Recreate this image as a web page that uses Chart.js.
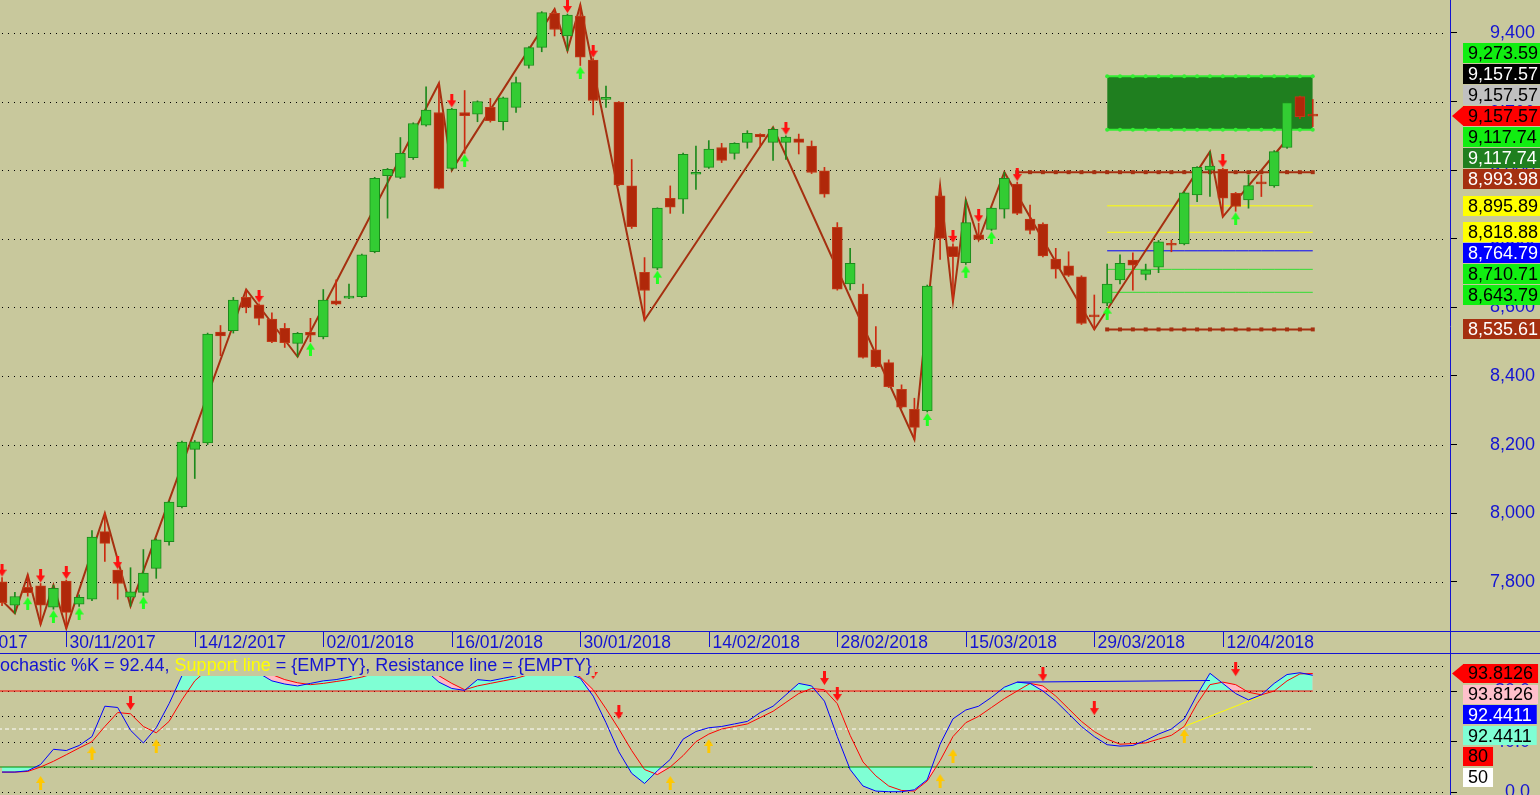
<!DOCTYPE html>
<html><head><meta charset="utf-8">
<script src="https://cdn.jsdelivr.net/npm/chart.js@4.4.1/dist/chart.umd.min.js"></script>
<style>
html,body{margin:0;padding:0;background:#C8C89C;overflow:hidden;width:1540px;height:795px;}
#main{position:absolute;left:-100px;top:0;}
#stoch{position:absolute;left:-100px;top:653px;}
</style></head><body>
<canvas id="main" width="1640" height="653"></canvas>
<canvas id="stoch" width="1640" height="142"></canvas>
<script>
// ---------------- DATA ----------------
const bars = Array.from({length:103}, (_, i) => i);
const dateTickBars   = [-5, 5, 15, 25, 35, 45, 55, 65, 75, 85, 95];
const dateTickLabels = ['16/11/2017','30/11/2017','14/12/2017','02/01/2018','16/01/2018','30/01/2018','14/02/2018','28/02/2018','15/03/2018','29/03/2018','12/04/2018'];
const priceTicks = [7800, 8000, 8200, 8400, 8600, 8800, 9000, 9200, 9400];
const stochTicks = [0, 20, 40, 60, 80, 100];

const open = [7800,7732,7784,7788,7726,7802,7735,7749,7946,7834,
7755,7769,7839,7917,8019,8186,8205,8528,8532,8629,
8607,8566,8539,8495,8527,8514,8619,8627,8631,8762,
8984,8979,9036,9131,9168,9005,9168,9163,9183,9141,
9183,9305,9358,9457,9391,9449,9321,9206,9198,8954,
8702,8714,8918,8915,8988,9008,9066,9049,9081,9104,
9081,9081,9091,9070,8998,8833,8668,8639,8476,8439,
8361,8303,8299,8925,8777,8730,8811,8827,8886,8959,
8857,8843,8741,8721,8689,8576,8612,8680,8738,8696,
8717,8784,8785,8928,9000,9002,8932,8913,8961,8954,
9066,9214,9160];
const high = [7812,7769,7820,7795,7790,7805,7762,7949,8000,7834,
7841,7894,7925,8035,8210,8212,8525,8547,8629,8652,
8610,8584,8553,8527,8568,8652,8680,8668,8755,8979,
9005,9095,9138,9243,9253,9180,9232,9202,9209,9213,
9271,9360,9462,9469,9455,9481,9325,9245,9200,9031,
8745,8890,8954,9050,9070,9086,9078,9080,9115,9106,
9125,9100,9105,9085,9008,8847,8772,8668,8544,8447,
8374,8335,8665,8954,8785,8913,8845,8890,8994,8965,
8898,8846,8772,8762,8692,8636,8726,8753,8759,8726,
8795,8796,8937,9010,9054,9005,8935,8986,8986,9057,
9200,9216,9206];
const low = [7730,7708,7758,7676,7720,7664,7728,7745,7859,7749,
7729,7760,7810,7907,8015,8101,8200,8459,8525,8584,
8549,8497,8483,8456,8500,8508,8607,8625,8628,8759,
8860,8975,9031,9128,8945,9000,9049,9141,9140,9117,
9168,9297,9345,9391,9348,9305,9161,9183,8955,8830,
8563,8710,8874,8874,8944,9005,9022,9032,9064,9068,
9028,9031,9047,8990,8921,8650,8651,8452,8425,8366,
8306,8215,8295,8740,8617,8725,8797,8824,8860,8870,
8814,8747,8685,8690,8550,8535.61,8605,8668,8650,8680,
8701,8762,8782,8908,8923,8864,8880,8889,8923,8950,
9063,9150,9127];
const close = [7739,7757,7768,7732,7781,7711,7755,7930,7912,7795,
7771,7825,7922,8032,8207,8208,8522,8517,8621,8600,
8568,8500,8497,8524,8519,8621,8609,8630,8753,8976,
9002,9049,9136,9175,8947,9178,9159,9200,9144,9211,
9255,9357,9459,9410,9452,9329,9203,9208,8957,8835,
8649,8889,8892,9046,8990,9061,9028,9078,9107,9097,
9119,9096,9081,8993,8930,8653,8728,8454,8427,8369,
8309,8250,8662,8801,8748,8847,8798,8889,8976,8874,
8824,8750,8711,8693,8553,8572,8668,8728,8723,8709,
8791,8781,8934,9008,9012,8918,8894,8955,8960,9054,
9197,9156,9157.57];

const zigzagBars = [0,1,2,3,4,5,8,10,19,23,34,35,43,44,45,50,60,71,73,74,75,76,78,85,94,95,100];
const zigzagVals = [7745,7708,7820,7676,7790,7664,8000,7729,8652,8456,9253,9000,9469,9348,9481,8563,9125,8215,8954,8617,8913,8797,8994,8535.61,9054,8864,9090];

const sellArrowBars = [0,3,5,9,20,35,44,46,61,74,76,79,95];
const buyArrowBars  = [2,4,6,11,24,36,45,51,72,75,77,86,96];

const lastClose = 9157.57;
const zoneTop = 9273.59, zoneBottom = 9117.74, zoneFromBar = 86;
const resistLevel = 8993.98, resistFromBar = 79;
const supportLevel = 8535.61;
const yellowLevels = [8895.89, 8818.88];
const blueLevel = 8764.79;
const greenLevels = [8710.71, 8643.79];
const levelsFromBar = 86;

const stochK = [16,16,17,22,34,33,37,44,68,67,
49,39,51,70,92,100,100,98,100,99,
94,88,85.5,84,86,88,89,91,95,100,
98,100,100,96,87,82,80.5,89,88,90,
92,97,100,97,94,90,76,55,32,15,
7,17,26,42,48,51,52,54,56,63,
68,77,86,84,72,44,18,5,1,0.5,
0.5,2,10,38,58,65,68,75,83,87,
86,80,72,62,52,44,37.6,36.5,37,41,
46,50,58,77,94,86,78,73,77,86,
93,94.4,92.4411];
const stochD = [16,16,16.5,20,24.5,29.7,35,40,52,63,
62,52,47,56,73,88,97,99,99,99,
97,93,89,86.5,85,86,87.5,89,91,94,
97,99,99,97,92,86,81,84,86,88,
90,93,96,98,96,91,81,66,50,33,
18,14,20,29,40,46,50,52,54,59,
64,71,78,82,81,70,45,24,13,5,
1.5,1,9,25,44,55,60,67,74,80,
86,84,76,66,56,48,42,38,38.5,39,
42,45,52,70,85,87,85,79,77,80,
88,93.5,93.8126];
const stochUpBars = [3,7,12,52,55,73,74,92];
const stochUpVals = [13.7,37.3,42.9,13.7,42.9,15.2,35,50.8];
const stochDownBars = [10,46,48,64,65,81,85,96];
const stochDownVals = [64.2,88.7,57,83.9,71.3,87,60.2,91];
const supportLineBars = [92, 98], supportLineVals = [52, 76];
const resistLineBars = [79, 94], resistLineVals = [87, 88.3];
const overbought = 80, oversold = 20, midLevel = 50;

// ---------------- STYLE ----------------
const FONT = '"Liberation Sans", Arial, sans-serif';
const BG = '#C8C89C';
const AXIS_BLUE = '#1414D2';
const GREEN_BODY = '#33CC33', GREEN_EDGE = '#1C8A1C';
const RED_BODY = '#B0280A', RED_EDGE = '#C23A18', RED_WICK = '#CC2A10';
const BROWN = '#A53010';
const BRIGHT_GREEN = '#11EE11';
const DARK_GREEN = '#1F7F1F';
const CYAN = 'rgb(127,255,212)';
const PINK = 'rgb(255,185,195)';
const X_MIN = -7.94, X_MAX = 112.68;
Chart.defaults.font.family = FONT;

function makeArrow(color, dir, w, h) {
  const c = document.createElement('canvas');
  c.width = w; c.height = 2 * h + 2;
  const g = c.getContext('2d');
  g.fillStyle = color;
  const cx = w / 2, sh = 1.5, head = Math.round(h * 0.5);
  g.beginPath();
  if (dir === 'down') {
    const tip = h, base = 0;
    g.moveTo(cx - sh, base); g.lineTo(cx + sh, base); g.lineTo(cx + sh, tip - head);
    g.lineTo(w, tip - head); g.lineTo(cx, tip); g.lineTo(0, tip - head); g.lineTo(cx - sh, tip - head);
  } else {
    const tip = h + 2, base = 2 * h + 2;
    g.moveTo(cx - sh, base); g.lineTo(cx + sh, base); g.lineTo(cx + sh, tip + head);
    g.lineTo(w, tip + head); g.lineTo(cx, tip); g.lineTo(0, tip + head); g.lineTo(cx - sh, tip + head);
  }
  g.closePath(); g.fill();
  return c;
}
const redDown = makeArrow('#FF1010', 'down', 9, 13);
const greenUp = makeArrow('#22FF22', 'up', 9, 13);
const redDownS = makeArrow('#FF1010', 'down', 9, 14);
const yellowUpS = makeArrow('#FFC800', 'up', 9, 14);

const isUp = bars.map(i => close[i] >= open[i]);
const fmt2 = v => v.toLocaleString('en-US', {minimumFractionDigits: 2, maximumFractionDigits: 2});

function levelLine(value, fromBar, color, width, markers) {
  return {
    type: 'line',
    data: bars.filter(i => i >= fromBar).map(i => ({x: i, y: value})),
    borderColor: color, borderWidth: width,
    pointRadius: markers ? 2.8 : 0, pointStyle: 'rect',
    pointBackgroundColor: color, pointBorderWidth: 0, fill: false
  };
}
function arrowSet(barsArr, valsFn, img) {
  return {
    type: 'line', showLine: false,
    data: barsArr.map((b, k) => ({x: b, y: valsFn(b, k)})),
    pointStyle: img, pointRadius: 6, pointHoverRadius: 6
  };
}

// ---------------- BOX HELPERS ----------------
function drawBox(ctx, xLeft, yc, text, bg, fg, arrow, h) {
  ctx.font = '18px ' + FONT;
  const w = ctx.measureText(text).width + 10;
  ctx.fillStyle = bg;
  ctx.fillRect(xLeft, Math.round(yc - h / 2), w, h);
  if (arrow) {
    ctx.beginPath();
    ctx.moveTo(xLeft + 0.5, Math.round(yc - h / 2));
    ctx.lineTo(xLeft - 11, yc);
    ctx.lineTo(xLeft + 0.5, Math.round(yc - h / 2) + h);
    ctx.closePath(); ctx.fill();
  }
  ctx.fillStyle = fg; ctx.textBaseline = 'middle'; ctx.textAlign = 'left';
  ctx.fillText(text, xLeft + 5, yc + 1);
}
function layoutBoxes(anchorY, above, below, gap) {
  let prev = anchorY;
  above.forEach(b => { b.py = Math.min(b.ideal, prev - gap); prev = b.py; });
  prev = anchorY;
  below.forEach(b => { b.py = Math.max(b.ideal, prev + gap); prev = b.py; });
}

// ---------------- MAIN CHART ----------------
const mainDecor = {
  id: 'mainDecor',
  beforeDatasetsDraw(chart) {
    const {ctx, chartArea: a, scales: {y}} = chart;
    ctx.save();
    ctx.strokeStyle = '#000'; ctx.lineWidth = 1; ctx.setLineDash([1, 5]);
    priceTicks.forEach(v => {
      const py = Math.round(y.getPixelForValue(v)) + 0.5;
      ctx.beginPath(); ctx.moveTo(a.left, py); ctx.lineTo(a.right - 4, py); ctx.stroke();
    });
    ctx.restore();
  },
  afterDraw(chart) {
    const {ctx, chartArea: a, scales: {x, y}} = chart;
    ctx.save();
    ctx.strokeStyle = AXIS_BLUE; ctx.lineWidth = 1;
    ctx.beginPath(); ctx.moveTo(0, a.bottom + 0.5); ctx.lineTo(chart.width, a.bottom + 0.5); ctx.stroke();
    ctx.beginPath(); ctx.moveTo(a.right + 0.5, 0); ctx.lineTo(a.right + 0.5, chart.height); ctx.stroke();
    ctx.font = '17.5px ' + FONT; ctx.fillStyle = AXIS_BLUE; ctx.textBaseline = 'top'; ctx.textAlign = 'left';
    dateTickBars.forEach((b, k) => {
      const px = Math.round(x.getPixelForValue(b)) + 0.5;
      ctx.beginPath(); ctx.moveTo(px, a.bottom + 1); ctx.lineTo(px, a.bottom + 16); ctx.stroke();
      ctx.fillText(dateTickLabels[k], px + 3, a.bottom + 3);
    });
    const xl = a.right + 13;
    const anchorY = y.getPixelForValue(lastClose);
    const above = [
      {v: lastClose, bg: '#C0C0C0', fg: '#000'},
      {v: lastClose, bg: '#000000', fg: '#FFF'},
      {v: zoneTop, bg: BRIGHT_GREEN, fg: '#000'}
    ];
    const below = [
      {v: zoneBottom, bg: BRIGHT_GREEN, fg: '#000'},
      {v: zoneBottom, bg: DARK_GREEN, fg: '#FFF'},
      {v: resistLevel, bg: BROWN, fg: '#FFF'},
      {v: yellowLevels[0], bg: '#FFFF00', fg: '#000'},
      {v: yellowLevels[1], bg: '#FFFF00', fg: '#000'},
      {v: blueLevel, bg: '#0000FF', fg: '#FFF'},
      {v: greenLevels[0], bg: BRIGHT_GREEN, fg: '#000'},
      {v: greenLevels[1], bg: BRIGHT_GREEN, fg: '#000'},
      {v: supportLevel, bg: BROWN, fg: '#FFF'}
    ];
    [...above, ...below].forEach(b => b.ideal = y.getPixelForValue(b.v));
    layoutBoxes(anchorY, above, below, 21);
    [...above, ...below].forEach(b => drawBox(ctx, xl, b.py, fmt2(b.v), b.bg, b.fg, false, 20));
    drawBox(ctx, xl, anchorY, fmt2(lastClose), '#FF0000', '#000', true, 20);
    ctx.restore();
  }
};

const mainDatasets = [
  arrowSet(sellArrowBars, b => high[b], redDown),
  arrowSet(buyArrowBars, b => low[b], greenUp),
  {
    type: 'bar', grouped: false,
    data: bars.map(i => ({x: i, y: [open[i], close[i]]})),
    backgroundColor: bars.map(i => isUp[i] ? GREEN_BODY : RED_BODY),
    borderColor: bars.map(i => isUp[i] ? GREEN_EDGE : RED_EDGE),
    borderWidth: 1, borderSkipped: false, barThickness: 10, minBarLength: 2
  },
  {
    type: 'bar', grouped: false,
    data: bars.map(i => ({x: i, y: [low[i], high[i]]})),
    backgroundColor: bars.map(i => isUp[i] ? GREEN_EDGE : RED_WICK),
    borderWidth: 0, barThickness: 1
  },
  {
    type: 'line', data: zigzagBars.map((b, k) => ({x: b, y: zigzagVals[k]})),
    borderColor: BROWN, borderWidth: 2, pointRadius: 0, tension: 0, fill: false
  },
  levelLine(resistLevel, resistFromBar, BROWN, 2, true),
  levelLine(supportLevel, levelsFromBar, BROWN, 2, true),
  levelLine(yellowLevels[0], levelsFromBar, '#FFFF00', 1, false),
  levelLine(yellowLevels[1], levelsFromBar, '#FFFF00', 1, false),
  levelLine(blueLevel, levelsFromBar, '#0000FF', 1, false),
  levelLine(greenLevels[0], levelsFromBar, '#33DD33', 1, false),
  levelLine(greenLevels[1], levelsFromBar, '#33DD33', 1, false),
  {
    type: 'line', data: bars.filter(i => i >= zoneFromBar).map(i => ({x: i, y: zoneTop})),
    borderColor: '#33EE33', borderWidth: 2, pointRadius: 2, pointBackgroundColor: '#33EE33', pointBorderWidth: 0, fill: false
  },
  {
    type: 'line', data: bars.filter(i => i >= zoneFromBar).map(i => ({x: i, y: zoneBottom})),
    borderColor: '#33EE33', borderWidth: 2, pointRadius: 2, pointBackgroundColor: '#33EE33', pointBorderWidth: 0,
    fill: '-1', backgroundColor: DARK_GREEN
  }
];

new Chart(document.getElementById('main'), {
  type: 'bar',
  data: {datasets: mainDatasets},
  options: {
    responsive: false, animation: false, events: [],
    layout: {padding: 0, autoPadding: false},
    plugins: {legend: {display: false}, tooltip: {enabled: false}, title: {display: false}},
    scales: {
      x: {
        type: 'linear', min: X_MIN, max: X_MAX, offset: false,
        ticks: {display: false}, grid: {display: false, drawTicks: false}, border: {display: false},
        afterFit(s) { s.height = 22; s.paddingLeft = 0; s.paddingRight = 0; }
      },
      y: {
        position: 'right', min: 7656.5, max: 9495.9,
        afterBuildTicks(s) { s.ticks = priceTicks.map(v => ({value: v})); },
        afterFit(s) { s.width = 90; s.paddingTop = 0; s.paddingBottom = 0; },
        ticks: {callback: v => Number(v).toLocaleString('en-US'), color: AXIS_BLUE,
                font: {size: 18, family: FONT}, crossAlign: 'near', padding: 33},
        grid: {drawOnChartArea: false, tickLength: 7, tickColor: '#000'},
        border: {display: false}
      }
    }
  },
  plugins: [mainDecor]
});

// ---------------- STOCHASTIC CHART ----------------
const stochDecor = {
  id: 'stochDecor',
  beforeDatasetsDraw(chart) {
    const {ctx, chartArea: a, scales: {y}} = chart;
    ctx.save();
    ctx.strokeStyle = '#000'; ctx.lineWidth = 1; ctx.setLineDash([1, 5]);
    stochTicks.forEach(v => {
      const py = Math.round(y.getPixelForValue(v)) + 0.5;
      ctx.beginPath(); ctx.moveTo(a.left, py); ctx.lineTo(a.right - 4, py); ctx.stroke();
    });
    ctx.restore();
  },
  afterDatasetsDraw(chart) {
    const {ctx} = chart;
    ctx.save();
    ctx.font = '18px ' + FONT; ctx.textBaseline = 'middle'; ctx.textAlign = 'left';
    const parts = [
      {t: 'Stochastic %K = ' + stochK[stochK.length - 1].toFixed(2) + ', ', c: AXIS_BLUE},
      {t: 'Support line', c: '#FFFF00'},
      {t: ' = {EMPTY}, Resistance line = {EMPTY}', c: AXIS_BLUE}
    ];
    const x0 = 100 - ctx.measureText('St').width;
    const total = parts.reduce((s, p) => s + ctx.measureText(p.t).width, 0);
    ctx.fillStyle = BG;
    ctx.fillRect(0, 2, x0 + total + 3, 21);
    let xx = x0;
    parts.forEach(p => { ctx.fillStyle = p.c; ctx.fillText(p.t, xx, 13); xx += ctx.measureText(p.t).width; });
    ctx.restore();
  },
  afterDraw(chart) {
    const {ctx, chartArea: a, scales: {y}} = chart;
    ctx.save();
    ctx.strokeStyle = AXIS_BLUE; ctx.lineWidth = 1;
    ctx.beginPath(); ctx.moveTo(0, 0.5); ctx.lineTo(chart.width, 0.5); ctx.stroke();
    ctx.beginPath(); ctx.moveTo(a.right + 0.5, 0); ctx.lineTo(a.right + 0.5, chart.height); ctx.stroke();
    const xl = a.right + 13;
    const lastK = stochK[stochK.length - 1], lastD = stochD[stochD.length - 1];
    const anchorY = y.getPixelForValue(lastD);
    const below = [
      {v: lastD, t: lastD.toFixed(4), bg: 'rgb(255,192,203)', fg: '#000'},
      {v: lastK, t: lastK.toFixed(4), bg: '#0000FF', fg: '#FFF'},
      {v: lastK, t: lastK.toFixed(4), bg: CYAN, fg: '#000'},
      {v: overbought, t: String(overbought), bg: '#FF0000', fg: '#000'},
      {v: midLevel, t: String(midLevel), bg: '#FFFFFF', fg: '#000'}
    ];
    below.forEach(b => b.ideal = y.getPixelForValue(b.v));
    layoutBoxes(anchorY, [], below, 20.7);
    below.forEach(b => drawBox(ctx, xl, b.py, b.t, b.bg, b.fg, false, 19));
    drawBox(ctx, xl, anchorY, lastD.toFixed(4), '#FF0000', '#000', true, 19);
    ctx.restore();
  }
};

const kData = bars.map(i => ({x: i, y: stochK[i]}));
const dData = bars.map(i => ({x: i, y: stochD[i]}));
const lastBar = bars[bars.length - 1];
const hline = (v, color, dash) => ({
  data: [{x: X_MIN, y: v}, {x: lastBar, y: v}], borderColor: color, borderWidth: 1,
  borderDash: dash || [], pointRadius: 0, fill: false
});
const fillSet = (data, level, side, color) => ({
  data, borderWidth: 0, borderColor: 'rgba(0,0,0,0)', pointRadius: 0,
  fill: {target: {value: level}, above: side === 'above' ? color : 'rgba(0,0,0,0)', below: side === 'below' ? color : 'rgba(0,0,0,0)'}
});

new Chart(document.getElementById('stoch'), {
  type: 'line',
  data: {datasets: [
    arrowSet(stochUpBars, (b, k) => stochUpVals[k], yellowUpS),
    arrowSet(stochDownBars, (b, k) => stochDownVals[k], redDownS),
    {data: kData, borderColor: '#0000FF', borderWidth: 1, pointRadius: 0, fill: false},
    {data: dData, borderColor: '#FF0000', borderWidth: 1, pointRadius: 0, fill: false},
    {data: supportLineBars.map((b, k) => ({x: b, y: supportLineVals[k]})), borderColor: '#FFFF00', borderWidth: 1, pointRadius: 0, fill: false},
    {data: resistLineBars.map((b, k) => ({x: b, y: resistLineVals[k]})), borderColor: '#0000FF', borderWidth: 1, pointRadius: 0, fill: false},
    hline(overbought, '#FF0000'),
    hline(oversold, '#009000'),
    hline(midLevel, '#FFFFFF', [4, 3]),
    fillSet(kData, overbought, 'above', CYAN),
    fillSet(kData, oversold, 'below', CYAN),
    fillSet(dData, overbought, 'above', PINK),
    fillSet(dData, oversold, 'below', PINK)
  ]},
  options: {
    responsive: false, animation: false, events: [],
    layout: {padding: 0, autoPadding: false},
    plugins: {legend: {display: false}, tooltip: {enabled: false}, title: {display: false}},
    scales: {
      x: {type: 'linear', min: X_MIN, max: X_MAX, offset: false, display: false},
      y: {
        position: 'right', min: -2.1, max: 110,
        afterBuildTicks(s) { s.ticks = stochTicks.map(v => ({value: v})); },
        afterFit(s) { s.width = 90; s.paddingTop = 0; s.paddingBottom = 0; },
        ticks: {callback: v => Number(v).toFixed(1) + '\u00A0\u00A0', color: AXIS_BLUE,
                font: {size: 18, family: FONT}, crossAlign: 'far', padding: 20},
        grid: {drawOnChartArea: false, tickLength: 7, tickColor: '#000'},
        border: {display: false}
      }
    }
  },
  plugins: [stochDecor]
});
</script>
</body></html>
